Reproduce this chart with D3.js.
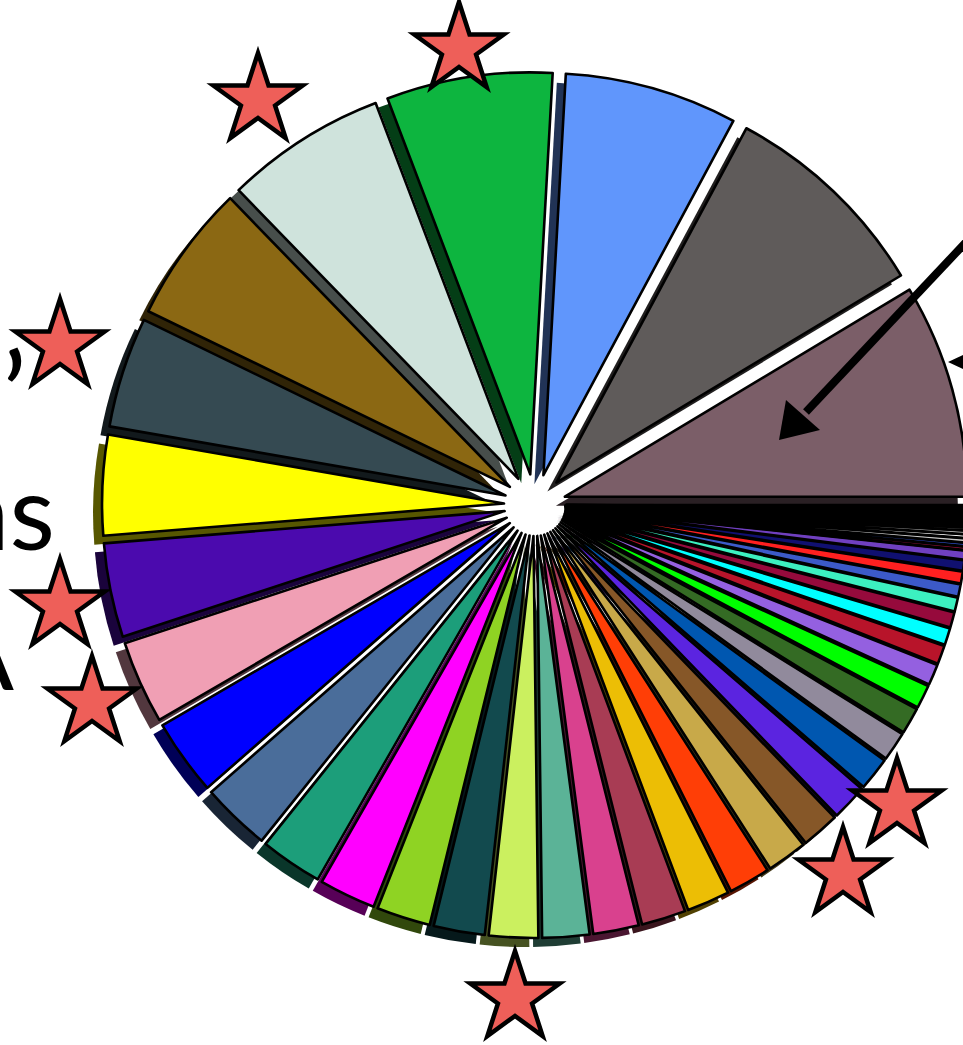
<!DOCTYPE html>
<html><head><meta charset="utf-8">
<script src="https://cdn.jsdelivr.net/npm/d3@7"></script>
<style>html,body{margin:0;padding:0;background:#fff;overflow:hidden}</style>
</head><body>
<svg id="chart" width="963" height="1045"></svg>
<script>
// ---- data ----
const sliceValues = [31, 30.8, 25, 24, 23.3, 20, 16, 14.5, 13.6, 12, 11, 10, 9,
  8.2, 7.8, 7.4, 7.1, 6.8, 6.6, 6.4, 6.2, 6.0, 5.8, 5.5, 5.2, 4.8,
  4.2, 3.8, 3.4, 3.0, 2.7, 2.4, 2.2, 2.0, 1.8, 1.7, 1.5, 1.3,
  0.5, 0.5, 0.6, 0.5, 0.5, 0.4,
  0.125, 0.125, 0.125, 0.125, 0.125, 0.125, 0.125, 0.125, 0.125, 0.125, 0.125, 0.125,
  0.125, 0.125, 0.125, 0.125, 0.125, 0.125, 0.125, 0.125, 0.125, 0.125, 0.125, 0.125];
const sliceColors = ["#7b5e68", "#5f5b5a", "#6096fc", "#0db53f", "#cfe3dc", "#8b6813", "#354a52",
  "#ffff00", "#4b0aae", "#f09fb4", "#0000ff", "#4a6d9a", "#1c9e7a",
  "#ff00ff", "#8fd323", "#124a4e", "#cbf05f", "#5bb397", "#d9418e", "#a83c54", "#ecbe05",
  "#ff3e06", "#c8a949", "#865728", "#5b24e0", "#0057b0",
  "#918a9c", "#346b24", "#00ff00", "#9460e0", "#b8142a", "#00ffff", "#960a3c", "#3cf0c0",
  "#3c5ac8", "#ff2020", "#101070", "#7040c0",
  "#a01040", "#3050d0", "#c8c8c8", "#ffffff", "#b0b0b0", "#e0e0e0",
  "#202060", "#602020", "#206040", "#404040", "#500050", "#305070", "#703010", "#103030",
  "#302050", "#205020", "#502030", "#203050", "#404020", "#204040", "#402040", "#304010",
  "#102040", "#401020", "#201010", "#101020", "#102010", "#201020", "#151515", "#101010"];
const sliceNames = sliceValues.map((_, i) => "Slice " + (i + 1));
const sideTexts = ["’", "as", "A"];
const topTexts = ["p", "y", "("];

// ---- layout ----
const W = 963, H = 1045;
const cx = 535, cy = 505, R = 402, explode = 31;
const shadowDX = -9, shadowDY = 9;

const svg = d3.select("#chart");

const pie = d3.pie().sort(null).value(d => d.value)
  .startAngle(Math.PI / 2).endAngle(Math.PI / 2 - 2 * Math.PI);
const arc = d3.arc().innerRadius(0).outerRadius(R);
const data = sliceValues.map((v, i) => ({ name: sliceNames[i], value: v, color: sliceColors[i] }));
const arcs = pie(data);

function off(a) {
  const m = (a.startAngle + a.endAngle) / 2;
  return [cx + explode * Math.sin(m), cy - explode * Math.cos(m)];
}

const shadowG = svg.append("g");
shadowG.selectAll("path").data(arcs).join("path")
  .attr("transform", d => { const o = off(d); return `translate(${o[0] + shadowDX},${o[1] + shadowDY})`; })
  .attr("d", arc)
  .attr("fill", d => d3.color(d.data.color).darker(3));

const sliceG = svg.append("g");
sliceG.selectAll("path").data(arcs).join("path")
  .attr("transform", d => { const o = off(d); return `translate(${o[0]},${o[1]})`; })
  .attr("d", arc)
  .attr("fill", d => d.data.color)
  .attr("stroke", "#000")
  .attr("stroke-width", 2.6)
  .attr("stroke-linejoin", "round");

// ---- arrows ----
svg.append("line").attr("x1", 985).attr("y1", 222).attr("x2", 806).attr("y2", 412)
  .attr("stroke", "#000").attr("stroke-width", 8);
svg.append("path").attr("d", "M779,440 L786,400 L820,430 Z").attr("fill", "#000");
svg.append("path").attr("d", "M948,362 L985,345 L985,379 Z").attr("fill", "#000");

// ---- text fragments ----
const fontFam = "'Gill Sans', Lato, 'Open Sans', sans-serif";
svg.append("text").attr("x", 27).attr("y", 438).attr("text-anchor", "end")
  .attr("font-family", fontFam).attr("font-size", 118).attr("fill", "#000").text(sideTexts[0]);
svg.append("text").attr("x", 55).attr("y", 550).attr("text-anchor", "end")
  .attr("font-family", fontFam).attr("font-size", 105).attr("fill", "#000").text(sideTexts[1]);
svg.append("text").attr("x", 14).attr("y", 690).attr("text-anchor", "end")
  .attr("font-family", fontFam).attr("font-size", 105).attr("fill", "#000").text(sideTexts[2]);
const topX = [386, 630, 910];
topTexts.forEach((t, i) => svg.append("text").attr("x", topX[i]).attr("y", -12)
  .attr("font-family", fontFam).attr("font-size", 60).attr("fill", "#000").text(t));

// ---- stars ----
const starCenters = [[258, 100], [459, 49], [60, 346], [60, 606], [92, 703], [897, 805], [843, 874], [515, 998]];
function starPath(r) {
  const ri = r * 0.382;
  const pts = [];
  for (let k = 0; k < 10; k++) {
    const a = -Math.PI / 2 + k * Math.PI / 5;
    const rr = k % 2 === 0 ? r : ri;
    pts.push([rr * Math.cos(a), rr * Math.sin(a)]);
  }
  return "M" + pts.map(p => p[0].toFixed(2) + "," + p[1].toFixed(2)).join("L") + "Z";
}
svg.append("g").selectAll("path").data(starCenters).join("path")
  .attr("transform", d => `translate(${d[0]},${d[1]})`)
  .attr("d", starPath(47))
  .attr("fill", "#ee5f59").attr("stroke", "#000").attr("stroke-width", 4.5)
  .attr("stroke-linejoin", "miter");
</script>
</body></html>
